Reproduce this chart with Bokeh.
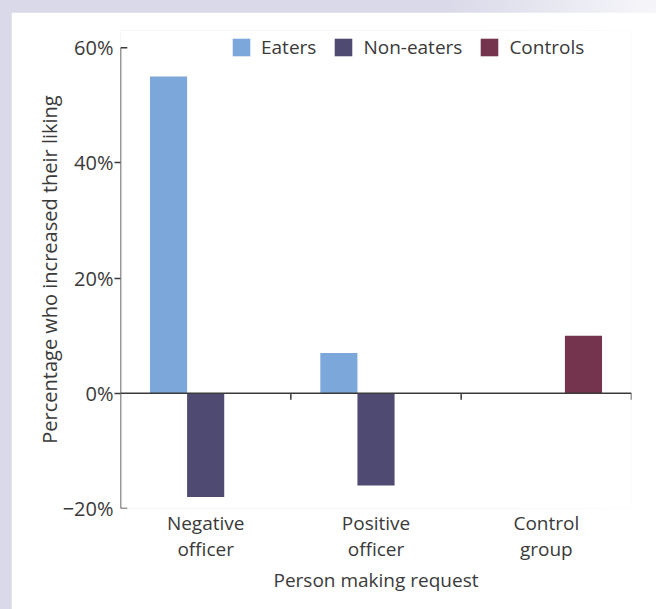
import numpy as np
from bokeh.plotting import figure
from bokeh.models import (ColumnDataSource, FactorRange, Range1d, Span, FixedTicker,
                          Legend, LegendItem)
from bokeh.transform import dodge
from bokeh.layouts import column
from bokeh.embed import file_html
from bokeh.resources import INLINE

# Data: percentage of participants who increased their liking
groups = ["Negative\nofficer", "Positive\nofficer", "Control\ngroup"]
eaters = [55, 7, np.nan]
non_eaters = [-18, -16, np.nan]
controls = [np.nan, np.nan, 10]
series_names = ["Eaters", "Non-eaters", "Controls"]
y_ticks = [-20, 0, 20, 40, 60]
y_tick_labels = ["\u221220%", "0%", "20%", "40%", "60%"]

colors = ["#7ca7da", "#4f4a71", "#74344d"]
ink = "#3a3a3a"
font = "Open Sans"
bar_w = 0.218

source = ColumnDataSource(data=dict(
    group=groups,
    eaters=np.array(eaters, dtype=float),
    non_eaters=np.array(non_eaters, dtype=float),
    controls=np.array(controls, dtype=float),
))

# a little headroom above 60% keeps the legend inside the plot area
p = figure(
    x_range=FactorRange(*groups),
    y_range=Range1d(y_ticks[0], 63),
    width=645, height=597,
    output_backend="svg", toolbar_location=None,
    min_border_left=109, min_border_right=25,
    min_border_top=18, min_border_bottom=101,
    border_fill_color="white", background_fill_color="white",
    outline_line_color=None,
)
p.margin = (12, 0, 0, 11)
p.grid.visible = False

r_eat = p.vbar(x=dodge("group", -bar_w, range=p.x_range), top="eaters", bottom=0,
               width=bar_w, source=source, fill_color=colors[0], line_color=None)
r_non = p.vbar(x=dodge("group", 0.0, range=p.x_range), top="non_eaters", bottom=0,
               width=bar_w, source=source, fill_color=colors[1], line_color=None)
r_ctl = p.vbar(x=dodge("group", bar_w, range=p.x_range), top="controls", bottom=0,
               width=bar_w, source=source, fill_color=colors[2], line_color=None)

# zero line acting as the horizontal axis, with ticks at category boundaries
p.add_layout(Span(location=0, dimension="width", line_color=ink, line_width=1.5))
p.segment(x0=dodge("group", 0.5, range=p.x_range), x1=dodge("group", 0.5, range=p.x_range),
          y0=0, y1=-1.1, source=source, line_color=ink, line_width=1.5)

# vertical axis line from -20% to 60%, with inward ticks at both ends
ends = ColumnDataSource(data=dict(group=[groups[0], groups[0]], y=[y_ticks[0], y_ticks[-1]]))
p.segment(x0=dodge("group", -0.5, range=p.x_range), x1=dodge("group", -0.5, range=p.x_range),
          y0=y_ticks[0], y1=y_ticks[-1], source=ColumnDataSource(data=dict(group=[groups[0]])),
          line_color=ink, line_width=1.5)
p.segment(x0=dodge("group", -0.5, range=p.x_range), x1=dodge("group", -0.46, range=p.x_range),
          y0="y", y1="y", source=ends, line_color=ink, line_width=1.5)

# vertical axis labels and outward ticks
ya = p.yaxis[0]
ya.ticker = FixedTicker(ticks=y_ticks, minor_ticks=y_ticks[1:-1])
ya.major_label_overrides = {t: l for t, l in zip(y_ticks, y_tick_labels)}
ya.axis_line_color = None
ya.major_tick_out = 0
ya.major_tick_in = 0
ya.minor_tick_out = 6
ya.minor_tick_in = 0
ya.minor_tick_line_color = ink
ya.minor_tick_line_width = 1.5
ya.major_label_standoff = 1
ya.major_label_text_font = font
ya.major_label_text_font_size = "20px"
ya.major_label_text_color = ink
ya.axis_label = "Percentage who increased their liking"
ya.axis_label_text_font = font
ya.axis_label_text_font_size = "20px"
ya.axis_label_text_font_style = "normal"
ya.axis_label_text_color = ink
ya.axis_label_standoff = -3

# category axis: labels only
xa = p.xaxis[0]
xa.axis_line_color = None
xa.major_tick_line_color = None
xa.major_tick_out = 0
xa.major_tick_in = 0
xa.major_label_standoff = 1
xa.major_label_text_font = font
xa.major_label_text_font_size = "19px"
xa.major_label_text_color = ink
xa.major_label_text_line_height = 1.03
xa.axis_label = "Person making request"
xa.axis_label_text_font = font
xa.axis_label_text_font_size = "19px"
xa.axis_label_text_font_style = "normal"
xa.axis_label_text_color = ink
xa.axis_label_standoff = 2

legend = Legend(
    items=[LegendItem(label=n, renderers=[r]) for n, r in zip(series_names, [r_eat, r_non, r_ctl])],
    orientation="horizontal",
    location=(110, 448),
    glyph_width=22, glyph_height=22,
    label_standoff=9, spacing=16,
    padding=0, margin=0,
    border_line_color=None, background_fill_alpha=0,
    label_text_font=font, label_text_font_size="19px", label_text_color=ink,
)
p.add_layout(legend, "center")

page = column(p, styles={
    "background": "linear-gradient(to right, #d9d9e9 0%, #d9d9e9 68%, #f6f6fa 100%)",
})

open("out.html", "w").write(file_html(page, INLINE))
